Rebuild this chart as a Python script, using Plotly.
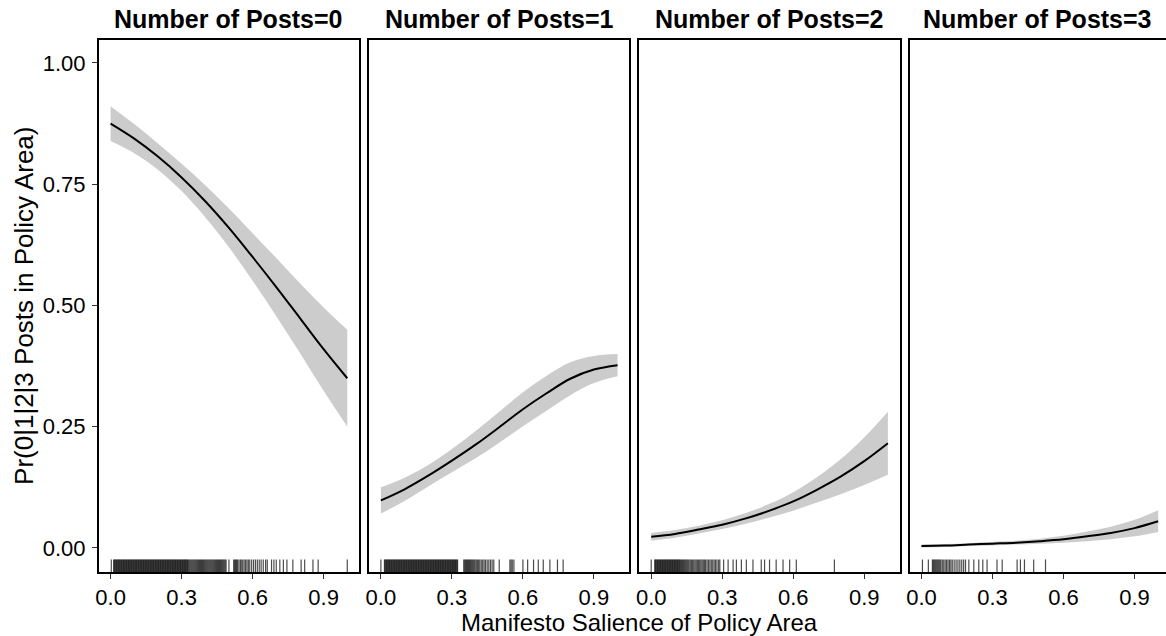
import plotly.graph_objects as go

# Manifesto salience grid on which predicted probabilities were evaluated
salience = [0.0, 0.1, 0.2, 0.3, 0.4, 0.5, 0.6, 0.7, 0.8, 0.9, 1.0]

# Predicted probabilities and 95% bands for each number of posts
fit_p0 = [0.875, 0.844, 0.807, 0.764, 0.715, 0.660, 0.600, 0.538, 0.474, 0.410, 0.350]
lo_p0 = [0.839, 0.814, 0.780, 0.736, 0.682, 0.620, 0.551, 0.478, 0.402, 0.324, 0.250]
hi_p0 = [0.911, 0.874, 0.834, 0.792, 0.748, 0.700, 0.649, 0.598, 0.546, 0.496, 0.450]

fit_p1 = [0.098, 0.121, 0.149, 0.180, 0.213, 0.249, 0.286, 0.319, 0.349, 0.368, 0.377]
lo_p1 = [0.071, 0.097, 0.127, 0.156, 0.185, 0.217, 0.251, 0.283, 0.315, 0.340, 0.354]
hi_p1 = [0.125, 0.145, 0.171, 0.204, 0.241, 0.281, 0.321, 0.355, 0.383, 0.396, 0.400]

fit_p2 = [0.023, 0.029, 0.038, 0.048, 0.061, 0.077, 0.096, 0.120, 0.147, 0.179, 0.216]
lo_p2 = [0.015, 0.021, 0.030, 0.039, 0.050, 0.063, 0.077, 0.094, 0.111, 0.130, 0.151]
hi_p2 = [0.031, 0.037, 0.046, 0.057, 0.072, 0.091, 0.115, 0.146, 0.183, 0.228, 0.281]

fit_p3 = [0.004, 0.005, 0.007, 0.009, 0.011, 0.014, 0.018, 0.024, 0.031, 0.041, 0.055]
lo_p3 = [0.001, 0.002, 0.004, 0.005, 0.007, 0.009, 0.011, 0.014, 0.018, 0.024, 0.033]
hi_p3 = [0.007, 0.008, 0.010, 0.013, 0.015, 0.019, 0.025, 0.034, 0.044, 0.058, 0.078]

# Observed salience values (rug) for policy areas with 0, 1, 2, 3 posts
rug_p0 = [
    0.003, 0.013, 0.016, 0.019, 0.022, 0.025, 0.028, 0.031, 0.034, 0.037, 0.040,
    0.043, 0.046, 0.049, 0.052, 0.055, 0.058, 0.061, 0.064, 0.067, 0.070, 0.073,
    0.076, 0.079, 0.082, 0.085, 0.088, 0.091, 0.094, 0.097, 0.100, 0.103, 0.106,
    0.109, 0.112, 0.115, 0.118, 0.121, 0.124, 0.127, 0.130, 0.133, 0.136, 0.139,
    0.142, 0.145, 0.148, 0.151, 0.154, 0.157, 0.160, 0.163, 0.166, 0.169, 0.172,
    0.175, 0.178, 0.181, 0.184, 0.187, 0.190, 0.193, 0.196, 0.199, 0.202, 0.205,
    0.208, 0.211, 0.214, 0.217, 0.220, 0.223, 0.226, 0.229, 0.232, 0.235, 0.238,
    0.241, 0.244, 0.247, 0.250, 0.253, 0.256, 0.259, 0.262, 0.265, 0.268, 0.271,
    0.274, 0.277, 0.280, 0.283, 0.286, 0.289, 0.292, 0.295, 0.298, 0.301, 0.304,
    0.307, 0.310, 0.313, 0.316, 0.319, 0.322, 0.325, 0.328,
    0.332, 0.336, 0.340, 0.344, 0.348, 0.352, 0.356, 0.360, 0.364, 0.368, 0.372,
    0.376, 0.380, 0.384, 0.388, 0.392, 0.396, 0.400, 0.404, 0.408, 0.412, 0.416,
    0.420, 0.424, 0.428, 0.432, 0.436, 0.440, 0.444, 0.448, 0.452, 0.456, 0.460,
    0.464, 0.468, 0.472, 0.476, 0.480, 0.484, 0.488,
    0.500, 0.520, 0.524, 0.528, 0.532, 0.536, 0.542, 0.548, 0.552, 0.558, 0.564,
    0.570, 0.576, 0.582, 0.588, 0.596, 0.604, 0.612, 0.620, 0.628, 0.636, 0.645,
    0.655, 0.662, 0.680, 0.690, 0.700, 0.715, 0.730, 0.745, 0.770, 0.805, 0.820,
    0.855, 0.877, 1.000,
]
rug_p1 = [
    0.000, 0.015, 0.018, 0.021, 0.024, 0.027, 0.030, 0.033, 0.036, 0.039, 0.042,
    0.045, 0.048, 0.051, 0.054, 0.057, 0.060, 0.063, 0.066, 0.069, 0.072, 0.075,
    0.078, 0.081, 0.084, 0.087, 0.090, 0.093, 0.096, 0.099, 0.102, 0.105, 0.108,
    0.111, 0.114, 0.117, 0.120, 0.123, 0.126, 0.129, 0.132, 0.135, 0.138, 0.141,
    0.144, 0.147, 0.150, 0.153, 0.156, 0.159, 0.162, 0.165, 0.168, 0.171, 0.174,
    0.177, 0.180, 0.183, 0.186, 0.189, 0.192, 0.195, 0.198, 0.201, 0.204, 0.207,
    0.210, 0.213, 0.216, 0.219, 0.222, 0.225, 0.228, 0.231, 0.234, 0.237, 0.240,
    0.243, 0.246, 0.249, 0.252, 0.255, 0.258, 0.261, 0.264, 0.267, 0.270, 0.273,
    0.276, 0.279, 0.282, 0.285, 0.288, 0.291, 0.294, 0.297, 0.300, 0.303, 0.306,
    0.309, 0.312, 0.315, 0.318, 0.321, 0.324,
    0.350, 0.354, 0.358, 0.362, 0.366, 0.370, 0.374, 0.378, 0.382, 0.386, 0.390,
    0.394, 0.398, 0.403, 0.408, 0.413, 0.418, 0.424, 0.430, 0.436, 0.442, 0.449,
    0.456, 0.463, 0.470, 0.477, 0.500, 0.545, 0.550, 0.555, 0.562, 0.600, 0.620,
    0.645, 0.665, 0.686, 0.714, 0.746, 0.770,
]
rug_p2 = [
    0.000, 0.015, 0.018, 0.021, 0.024, 0.027, 0.030, 0.033, 0.036, 0.039, 0.042,
    0.045, 0.048, 0.051, 0.054, 0.057, 0.060, 0.063, 0.066, 0.069, 0.072, 0.075,
    0.078, 0.081, 0.084, 0.087, 0.090, 0.093, 0.096, 0.099, 0.102, 0.105, 0.108,
    0.111, 0.114, 0.117, 0.120, 0.124, 0.128, 0.132, 0.136, 0.140, 0.144, 0.148,
    0.152, 0.156, 0.160, 0.165, 0.170, 0.175, 0.180, 0.185, 0.190, 0.195, 0.200,
    0.205, 0.210, 0.215, 0.220, 0.225, 0.230, 0.236, 0.242, 0.248, 0.254, 0.260,
    0.266, 0.272, 0.278, 0.285, 0.290, 0.306, 0.325, 0.346, 0.360, 0.381, 0.402,
    0.430, 0.465, 0.479, 0.500, 0.528, 0.557, 0.585, 0.613, 0.774,
]
rug_p3 = [
    0.004, 0.029, 0.046, 0.050, 0.054, 0.058, 0.062, 0.066, 0.070, 0.074, 0.078,
    0.082, 0.088, 0.094, 0.100, 0.106, 0.112, 0.118, 0.124, 0.130, 0.138, 0.146,
    0.154, 0.162, 0.170, 0.178, 0.186, 0.200, 0.221, 0.242, 0.259, 0.277, 0.319,
    0.341, 0.404, 0.418, 0.435, 0.474, 0.524,
]

panel_titles = ["Number of Posts=0", "Number of Posts=1",
                "Number of Posts=2", "Number of Posts=3"]
x_tickvals = [0.0, 0.3, 0.6, 0.9]
x_ticktext = ["0.0", "0.3", "0.6", "0.9"]
y_tickvals = [0.0, 0.25, 0.5, 0.75, 1.0]
y_ticktext = ["0.00", "0.25", "0.50", "0.75", "1.00"]

fits = [fit_p0, fit_p1, fit_p2, fit_p3]
lows = [lo_p0, lo_p1, lo_p2, lo_p3]
highs = [hi_p0, hi_p1, hi_p2, hi_p3]
rugs = [rug_p0, rug_p1, rug_p2, rug_p3]

# Layout geometry (pixels)
W, H = 1166, 636
M_TOP, M_BOT = 40, 64
PLOT_H = H - M_TOP - M_BOT
panel_px = [(96, 357), (367, 628), (638, 899), (909, 1166)]
PX_PER_UNIT = 237.3
X0 = -0.05
Y_RANGE = [-0.0495, 1.0474]
RUG_TOP = -0.0235

FONT = "Liberation Sans, Arial, Helvetica, sans-serif"
BAND = "#cccccc"

fig = go.Figure()

for i in range(4):
    xa = "x" if i == 0 else f"x{i + 1}"
    ya = "y" if i == 0 else f"y{i + 1}"

    # confidence band: lower edge, then upper edge filled down to it
    fig.add_trace(go.Scatter(
        x=salience, y=lows[i], mode="lines",
        line=dict(width=0, shape="spline", color=BAND),
        hoverinfo="skip", showlegend=False, xaxis=xa, yaxis=ya,
    ))
    fig.add_trace(go.Scatter(
        x=salience, y=highs[i], mode="lines", fill="tonexty",
        fillcolor=BAND, line=dict(width=0, shape="spline", color=BAND),
        hoverinfo="skip", showlegend=False, xaxis=xa, yaxis=ya,
    ))
    # predicted probability
    fig.add_trace(go.Scatter(
        x=salience, y=fits[i], mode="lines",
        line=dict(color="black", width=2, shape="spline"),
        showlegend=False, xaxis=xa, yaxis=ya,
    ))
    # rug of observed salience values
    rx, ry = [], []
    for v in rugs[i]:
        rx += [v, v, None]
        ry += [Y_RANGE[0], RUG_TOP, None]
    fig.add_trace(go.Scatter(
        x=rx, y=ry, mode="lines",
        line=dict(color="rgba(0,0,0,0.7)", width=1.2),
        hoverinfo="skip", showlegend=False, xaxis=xa, yaxis=ya,
    ))

layout = dict(
    width=W, height=H,
    margin=dict(l=0, r=0, t=M_TOP, b=M_BOT),
    paper_bgcolor="white", plot_bgcolor="white",
    font=dict(family=FONT, color="black", size=22),
    showlegend=False,
)

for i, (a, b) in enumerate(panel_px):
    key_x = "xaxis" if i == 0 else f"xaxis{i + 1}"
    key_y = "yaxis" if i == 0 else f"yaxis{i + 1}"
    width_px = b - a
    layout[key_x] = dict(
        domain=[a / W, b / W],
        range=[X0, X0 + width_px / PX_PER_UNIT],
        anchor="y" if i == 0 else f"y{i + 1}",
        tickvals=x_tickvals, ticktext=x_ticktext,
        ticks="outside", ticklen=5, tickwidth=1, tickcolor="#333333",
        showgrid=False, zeroline=False,
        showline=True, linecolor="black", linewidth=1.5, mirror=True,
        tickfont=dict(family=FONT, size=22, color="black"),
    )
    layout[key_y] = dict(
        domain=[0, 1],
        range=Y_RANGE,
        anchor="x" if i == 0 else f"x{i + 1}",
        tickvals=y_tickvals, ticktext=y_ticktext,
        showticklabels=(i == 0),
        ticks="outside" if i == 0 else "", ticklen=5, tickwidth=1,
        tickcolor="#333333", ticklabelstandoff=2,
        showgrid=False, zeroline=False,
        showline=True, linecolor="black", linewidth=1.5,
        mirror=(i < 3),
        tickfont=dict(family=FONT, size=22, color="black"),
    )

annotations = []
for i, (a, b) in enumerate(panel_px):
    annotations.append(dict(
        text=f"<b>{panel_titles[i]}</b>",
        x=(a + b) / 2 / W, y=1 + 21 / PLOT_H,
        xref="paper", yref="paper", xanchor="center", yanchor="middle",
        showarrow=False, font=dict(family=FONT, size=25, color="black"),
    ))
annotations.append(dict(
    text="Manifesto Salience of Policy Area",
    x=638 / W, y=-50 / PLOT_H, xref="paper", yref="paper",
    xanchor="center", yanchor="middle", showarrow=False,
    font=dict(family=FONT, size=24, color="black"),
))
annotations.append(dict(
    text="Pr(0|1|2|3 Posts in Policy Area)",
    x=21 / W, y=(H - M_BOT - 306) / PLOT_H, xref="paper", yref="paper",
    xanchor="center", yanchor="middle", textangle=-90, showarrow=False,
    font=dict(family=FONT, size=26, color="black"),
))
layout["annotations"] = annotations

fig.update_layout(**layout)
fig.write_html("out.html")
